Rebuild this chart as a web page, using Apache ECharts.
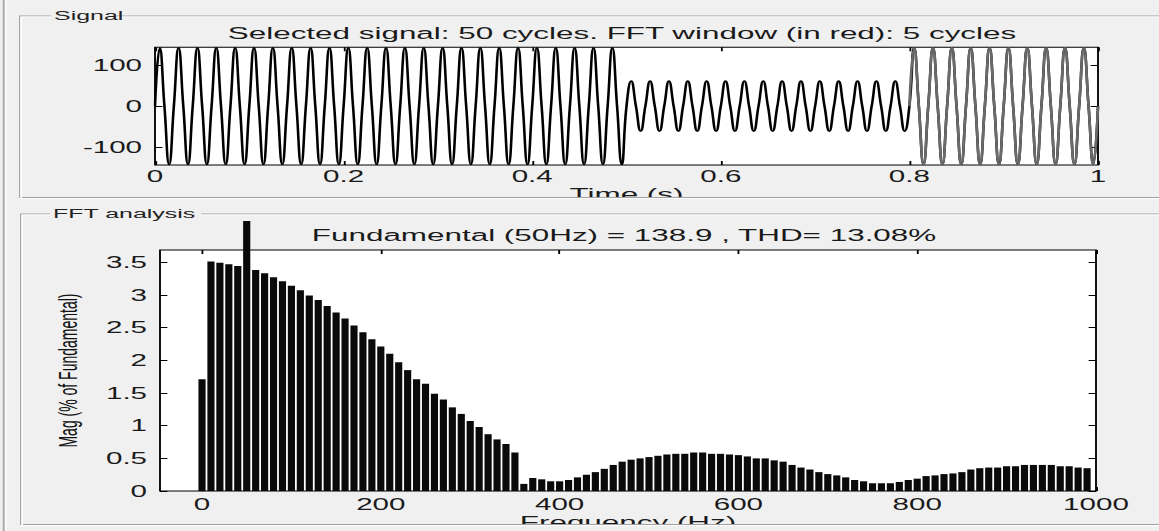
<!DOCTYPE html>
<html>
<head>
<meta charset="utf-8">
<script src="https://cdn.jsdelivr.net/npm/echarts@6/dist/echarts.min.js"></script>
<style>
html,body{margin:0;padding:0;background:#f0f0f0;overflow:hidden;width:1159px;height:531px;}
#main{width:627px;height:531px;transform:scaleX(1.848485);transform-origin:0 0;}
</style>
</head>
<body>
<div id="main"></div>
<script>
// ---------------- data ----------------
// Peak amplitude of each of the 50 cycles of the selected signal (50 Hz)
const signalCycleAmps = [
  142,142,142,142,142,142,142,142,142,142,
  142,142,142,142,142,142,142,142,142,142,
  142,142,142,142,142,
  61,61,61,61,61,61,61,61,61,61,61,61,61,61,61,
  142,142,142,142,142,142,142,142,142,142
];
const signalFreqHz = 50;
const windowStartTime = 0.8;
const signalXTicks = [0, 0.2, 0.4, 0.6, 0.8, 1];
const signalYTicks = [-100, 0, 100];

const fftFreqs = [
  0,10,20,30,40,50,60,70,80,90,
  100,110,120,130,140,150,160,170,180,190,
  200,210,220,230,240,250,260,270,280,290,
  300,310,320,330,340,350,360,370,380,390,
  400,410,420,430,440,450,460,470,480,490,
  500,510,520,530,540,550,560,570,580,590,
  600,610,620,630,640,650,660,670,680,690,
  700,710,720,730,740,750,760,770,780,790,
  800,810,820,830,840,850,860,870,880,890,
  900,910,920,930,940,950,960,970,980,990
];
const fftMags = [
  1.71,3.51,3.49,3.47,3.44,4.13,3.38,3.33,3.27,3.21,
  3.14,3.07,2.99,2.92,2.83,2.73,2.64,2.53,2.43,2.32,
  2.21,2.10,1.97,1.85,1.71,1.64,1.49,1.40,1.28,1.18,
  1.07,0.98,0.87,0.79,0.72,0.59,0.11,0.20,0.18,0.15,
  0.15,0.17,0.21,0.25,0.29,0.34,0.40,0.45,0.48,0.50,
  0.52,0.54,0.56,0.57,0.57,0.59,0.59,0.57,0.57,0.56,
  0.55,0.53,0.50,0.50,0.47,0.45,0.40,0.36,0.33,0.29,
  0.26,0.24,0.21,0.17,0.15,0.12,0.12,0.12,0.14,0.17,
  0.19,0.23,0.24,0.26,0.27,0.29,0.33,0.35,0.36,0.36,
  0.38,0.38,0.40,0.40,0.40,0.40,0.38,0.38,0.36,0.35
];
const fftXTicks = [0, 200, 400, 600, 800, 1000];
const fftYTicks = [0, 0.5, 1, 1.5, 2, 2.5, 3, 3.5];

const signalTitle = 'Selected signal: 50 cycles. FFT window (in red): 5 cycles';
const fftTitle = 'Fundamental (50Hz) = 138.9 , THD= 13.08%';
const signalPanelLabel = 'Signal';
const fftPanelLabel = 'FFT analysis';
const signalXName = 'Time (s)';
const fftXName = 'Frequency (Hz)';
const fftYName = 'Mag (% of Fundamental)';

// ---------------- build series from the read values ----------------
const period = 1 / signalFreqHz;
const signalPts = [];
signalCycleAmps.forEach((a, k) => {
  const t0 = k * period;
  signalPts.push([+t0.toFixed(4), 0]);
  signalPts.push([+(t0 + period / 4).toFixed(4), a]);
  signalPts.push([+(t0 + period / 2).toFixed(4), 0]);
  signalPts.push([+(t0 + 3 * period / 4).toFixed(4), -a]);
});
signalPts.push([1, 0]);
const windowPts = signalPts.filter(p => p[0] >= windowStartTime - 1e-9);
const fftData = fftFreqs.map((f, i) => [f, fftMags[i]]);

// ---------------- layout (reference px -> chart px) ----------------
const S = 1159 / 627;
const rx = x => x / S;
const W = 627;
const FONT = '"Liberation Sans", Arial, sans-serif';
const BG = '#f0f0f0';
const fmt = v => String(v);

function tick(values) {
  return { show: true, inside: true, length: 4, customValues: values, lineStyle: { color: '#000', width: 1 } };
}
function label(values, margin) {
  return { show: true, margin: margin, customValues: values, formatter: fmt,
    fontSize: 16, color: '#1a1a1a', fontFamily: FONT };
}
function axis(extra) {
  return Object.assign({
    type: 'value',
    splitLine: { show: false },
    axisLine: { show: false, onZero: false },
    axisLabel: { show: false }
  }, extra);
}

const chart = echarts.init(document.getElementById('main'), null, { renderer: 'svg' });
chart.setOption({
  animation: false,
  backgroundColor: BG,
  grid: [
    { left: rx(155), top: 47.3, width: rx(943), height: 117.7, show: true,
      backgroundColor: '#fff', borderColor: '#000', borderWidth: 1 },
    { left: rx(160), top: 250, width: rx(936), height: 244, show: true,
      backgroundColor: '#fff', borderColor: '#000', borderWidth: 1 }
  ],
  xAxis: [
    axis({ gridIndex: 0, position: 'bottom', min: 0, max: 1,
      axisTick: tick(signalXTicks), axisLabel: label(signalXTicks, 3),
      name: signalXName, nameLocation: 'middle', nameGap: 20,
      nameTextStyle: { fontSize: 17, color: '#1a1a1a', fontFamily: FONT } }),
    axis({ gridIndex: 0, position: 'top', min: 0, max: 1, axisTick: tick(signalXTicks) }),
    axis({ gridIndex: 1, position: 'bottom', min: -47, max: 1000,
      axisTick: tick(fftXTicks), axisLabel: label(fftXTicks, 5),
      name: fftXName, nameLocation: 'middle', nameGap: 21,
      nameTextStyle: { fontSize: 17, color: '#1a1a1a', fontFamily: FONT } }),
    axis({ gridIndex: 1, position: 'top', min: -47, max: 1000, axisTick: tick(fftXTicks) })
  ],
  yAxis: [
    axis({ gridIndex: 0, position: 'left', min: -143, max: 143,
      axisTick: tick(signalYTicks), axisLabel: label(signalYTicks, 7) }),
    axis({ gridIndex: 0, position: 'right', min: -143, max: 143, axisTick: tick(signalYTicks) }),
    axis({ gridIndex: 1, position: 'left', min: 0, max: 3.686,
      axisTick: tick(fftYTicks), axisLabel: label(fftYTicks, 7),
      name: fftYName, nameLocation: 'middle', nameRotate: 90, nameGap: 43,
      nameTextStyle: { fontSize: 14, color: '#111', fontFamily: FONT } }),
    axis({ gridIndex: 1, position: 'right', min: 0, max: 3.686, axisTick: tick(fftYTicks) })
  ],
  series: [
    { type: 'line', xAxisIndex: 0, yAxisIndex: 0, data: signalPts, showSymbol: false,
      smooth: 0.5, lineStyle: { color: '#000', width: 1.4 }, clip: true, z: 2 },
    { type: 'line', xAxisIndex: 0, yAxisIndex: 0, data: windowPts, showSymbol: false,
      smooth: 0.5, lineStyle: { color: '#6a6a6a', width: 1.4 }, clip: true, z: 3 },
    { type: 'bar', xAxisIndex: 2, yAxisIndex: 2, data: fftData, barWidth: '80%',
      itemStyle: { color: '#0a0a0a' }, clip: false, z: 2 }
  ],
  graphic: [
    // outer window edge
    { type: 'line', z: 20, shape: { x1: 2, y1: 0, x2: 2, y2: 531 }, style: { stroke: '#a8a8a8', lineWidth: 1 } },
    { type: 'line', z: 20, shape: { x1: 3.2, y1: 0, x2: 3.2, y2: 531 }, style: { stroke: '#ffffff', lineWidth: 0.8 } },
    // covers that clip axis names at panel borders
    { type: 'rect', z: 19, shape: { x: 0, y: 198, width: W, height: 15.5 }, style: { fill: BG } },
    { type: 'rect', z: 19, shape: { x: 0, y: 525.5, width: W, height: 6 }, style: { fill: BG } },
    // signal panel frame
    { type: 'polyline', z: 20, shape: { points: [[W + 5, 16], [rx(20), 16], [rx(20), 197.5], [W + 5, 197.5]] },
      style: { stroke: '#a0a0a0', lineWidth: 1, fill: null } },
    { type: 'polyline', z: 20, shape: { points: [[W + 5, 17], [rx(20) + 0.6, 17], [rx(20) + 0.6, 198.5], [W + 5, 198.5]] },
      style: { stroke: '#ffffff', lineWidth: 1, fill: null } },
    // fft panel frame
    { type: 'polyline', z: 20, shape: { points: [[W + 5, 214], [rx(21), 214], [rx(21), 524.5], [W + 5, 524.5]] },
      style: { stroke: '#a0a0a0', lineWidth: 1, fill: null } },
    { type: 'polyline', z: 20, shape: { points: [[W + 5, 215], [rx(21) + 0.6, 215], [rx(21) + 0.6, 525.5], [W + 5, 525.5]] },
      style: { stroke: '#ffffff', lineWidth: 1, fill: null } },
    // panel labels
    { type: 'rect', z: 21, shape: { x: rx(51), y: 9, width: rx(66), height: 14 }, style: { fill: BG } },
    { type: 'text', z: 22, x: rx(54), y: 15.5,
      style: { text: signalPanelLabel, font: '13.5px ' + FONT, fill: '#222', textAlign: 'left', textVerticalAlign: 'middle' } },
    { type: 'rect', z: 21, shape: { x: rx(50), y: 207, width: rx(151), height: 14 }, style: { fill: BG } },
    { type: 'text', z: 22, x: rx(53), y: 213,
      style: { text: fftPanelLabel, font: '13.5px ' + FONT, fill: '#222', textAlign: 'left', textVerticalAlign: 'middle' } },
    // plot titles
    { type: 'text', z: 22, x: rx(622), y: 32.5,
      style: { text: signalTitle, font: '17px ' + FONT, fill: '#1a1a1a', textAlign: 'center', textVerticalAlign: 'middle' } },
    { type: 'text', z: 22, x: rx(624), y: 235,
      style: { text: fftTitle, font: '17px ' + FONT, fill: '#1a1a1a', textAlign: 'center', textVerticalAlign: 'middle' } }
  ]
});
</script>
</body>
</html>
